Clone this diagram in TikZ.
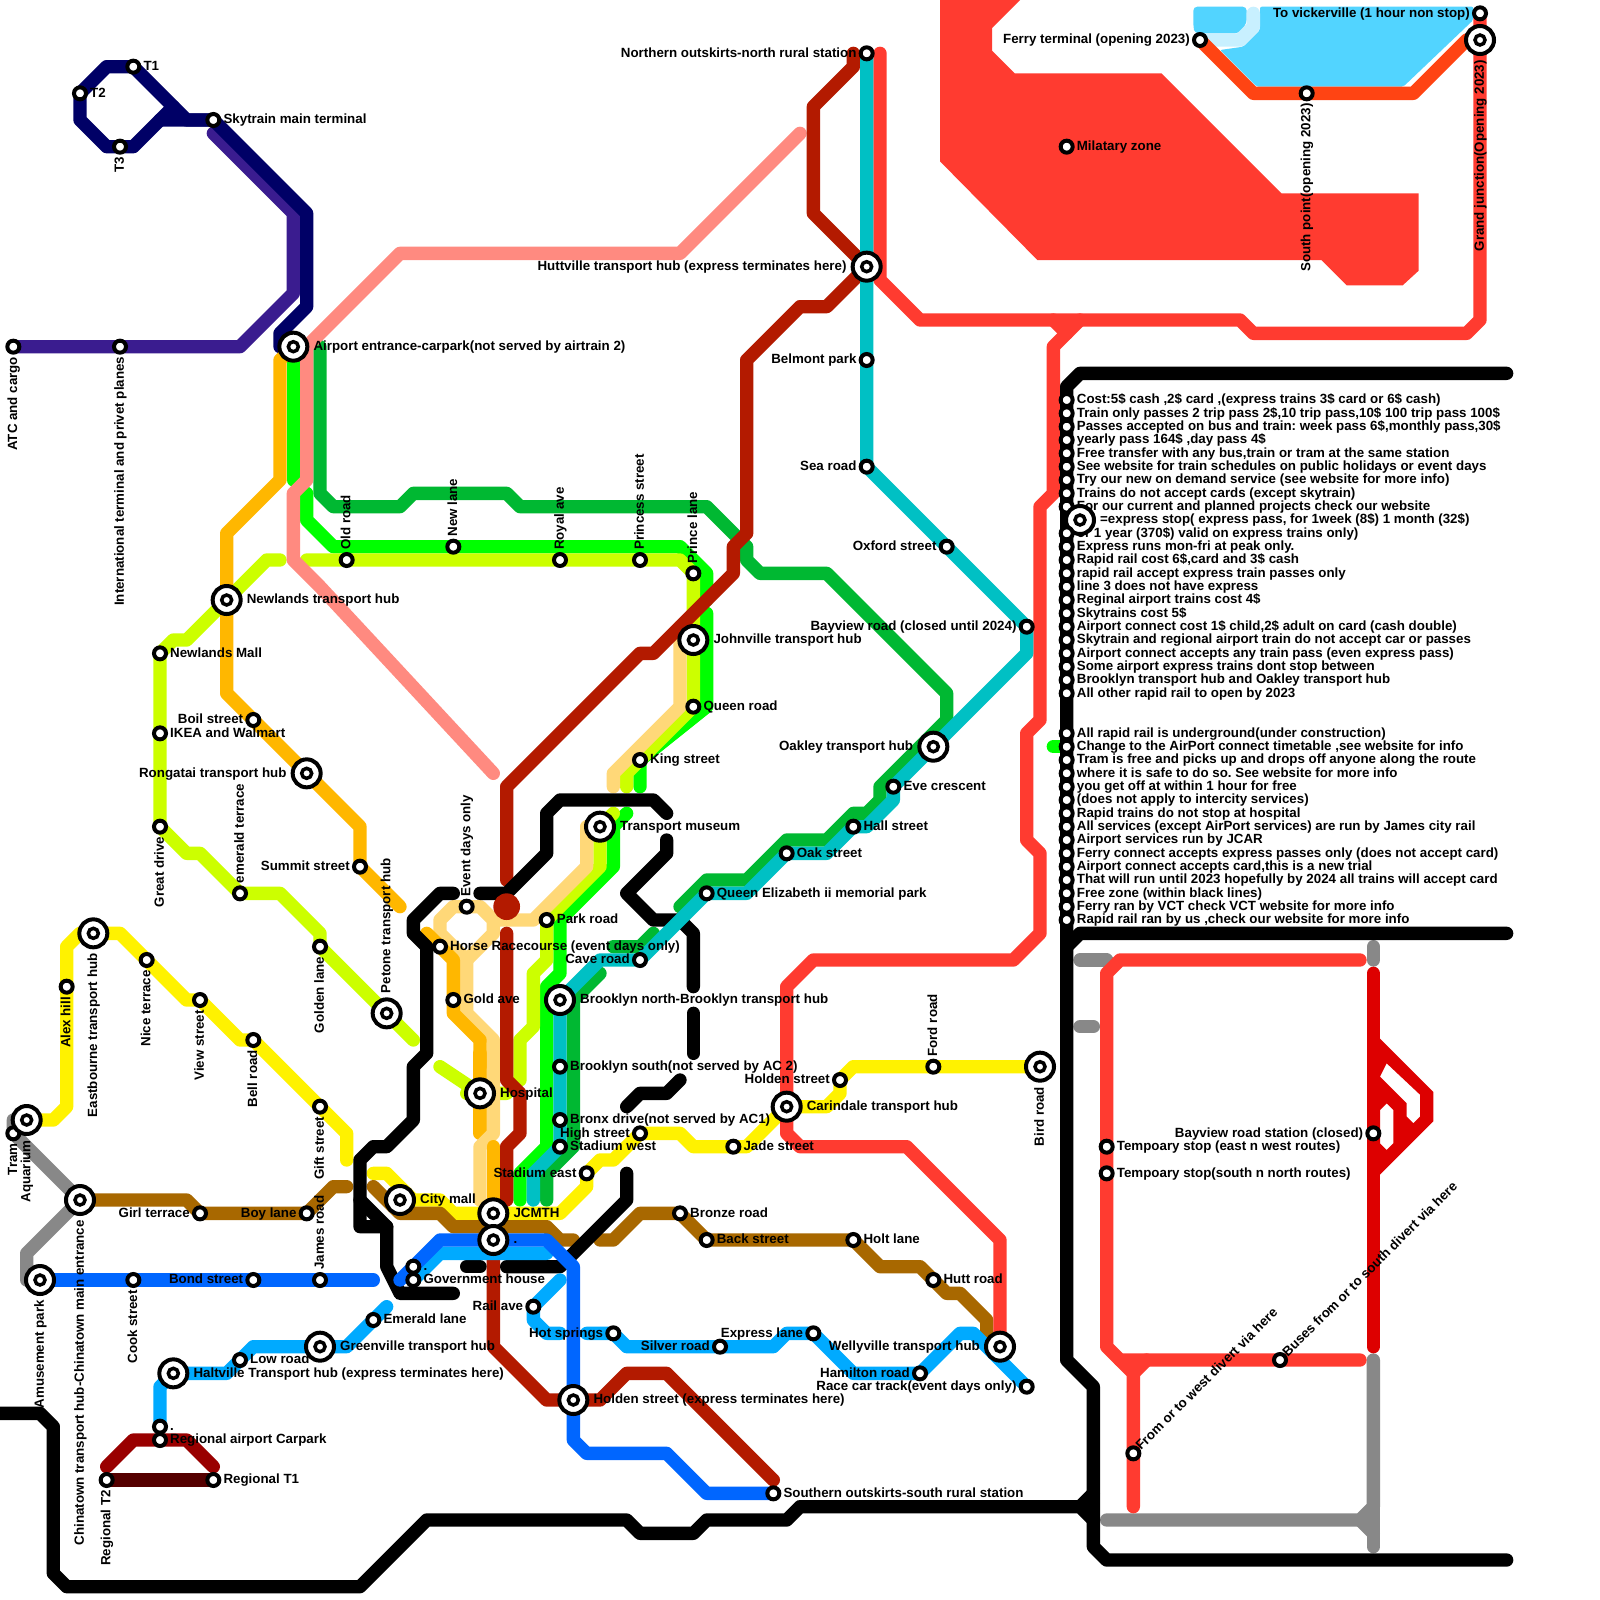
\documentclass[tikz,border=0pt]{standalone}
\usepackage{fontspec}
\setmainfont{Liberation Sans}
\pgfdeclarelayer{lines}\pgfdeclarelayer{words}
\pgfsetlayers{lines,words,main}
\definecolor{cnavy}{HTML}{000066}\definecolor{cpurple}{HTML}{3A1C8F}
\definecolor{cred}{HTML}{FF3B30}\definecolor{ccyan}{HTML}{00C0C4}
\definecolor{cdkgreen}{HTML}{00B832}\definecolor{cgreen}{HTML}{00FF00}
\definecolor{cyg}{HTML}{CCFF00}\definecolor{cgold}{HTML}{FFB700}
\definecolor{cpale}{HTML}{FFD878}\definecolor{csalmon}{HTML}{FF8A80}
\definecolor{cdkred}{HTML}{B31A00}\definecolor{cbrown}{HTML}{A86800}
\definecolor{cblue}{HTML}{0066FF}\definecolor{clblue}{HTML}{00AAFF}
\definecolor{cgray}{HTML}{888888}\definecolor{cdeep}{HTML}{DD0000}
\definecolor{csky}{HTML}{52D4FF}\definecolor{clight}{HTML}{C8F0FF}
\definecolor{cferry}{HTML}{FF4413}\definecolor{cregion}{HTML}{990000}
\definecolor{cmaroon}{HTML}{550000}
\tikzset{
 rl/.style={line width=13.33pt,line cap=round,line join=round},
 stn/.style={circle,draw=black,fill=white,line width=4pt,minimum size=12pt,inner sep=0pt},
 xstn/.style={circle,draw=black,fill=white,line width=4pt,minimum size=28pt,inner sep=0pt},
 xcore/.style={circle,draw=black,fill=white,line width=3.5pt,minimum size=10pt,inner sep=0pt},
 words/.style={inner sep=0pt,font=\fontsize{13.33}{13.33}\selectfont\bfseries\frenchspacing,text height=7.5pt,text depth=0pt},
 lblR/.style={words,anchor=west,xshift=10pt},
 lblL/.style={words,anchor=east,xshift=-10pt},
 lblU/.style={words,yshift=10pt,rotate=90,anchor=west},
 lblD/.style={words,yshift=-10pt,rotate=90,anchor=east},
 lblA/.style={words,xshift=5pt,yshift=5pt,rotate=45,anchor=west},
 xlblR/.style={words,anchor=west,xshift=20pt},
 xlblL/.style={words,anchor=east,xshift=-20pt},
 xlblU/.style={words,yshift=20pt,rotate=90,anchor=west},
 xlblD/.style={words,yshift=-20pt,rotate=90,anchor=east},
}
\newcommand{\st}[4]{\node[stn] (#1) at (#2) {};\begin{pgfonlayer}{words}\node[lbl#3] (#1-t) at (#1.center) {#4};\end{pgfonlayer}}
\newcommand{\xst}[4]{\node[xstn] (#1) at (#2) {};\node[xcore] (#1-c) at (#2) {};\begin{pgfonlayer}{words}\node[xlbl#3] (#1-t) at (#1.center) {#4};\end{pgfonlayer}}
\begin{document}
\begin{tikzpicture}[x=13.3333pt,y=-13.3333pt]
\path[use as bounding box] (0,0) rectangle (120,120);
% ---- stations
\st{t1}{10,5}{R}{T1}\st{t2}{6,7}{R}{T2}\st{t3}{9,11}{D}{T3}
\st{sky}{16,9}{R}{Skytrain main terminal}
\st{atc}{1,26}{D}{ATC and cargo}
\st{intl}{9,26}{D}{International terminal and privet planes}
\xst{airport}{22,26}{R}{Airport entrance-carpark(not served by airtrain 2)}
\st{oldrd}{26,42}{U}{Old road}\st{newln}{34,41}{U}{New lane}
\st{royal}{42,42}{U}{Royal ave}\st{princess}{48,42}{U}{Princess street}
\st{prince}{52,43}{U}{Prince lane}
\xst{johnv}{52,48}{R}{Johnville transport hub}
\st{queenrd}{52,53}{R}{Queen road}\st{king}{48,57}{R}{King street}
\xst{museum}{45,62}{R}{Transport museum}
\xst{newlands}{17,45}{R}{Newlands transport hub}
\st{nmall}{12,49}{R}{Newlands Mall}\st{ikea}{12,55}{R}{IKEA and Walmart}
\st{boil}{19,54}{L}{Boil street}
\xst{rong}{23,58}{L}{Rongatai transport hub}
\st{emter}{18,67}{U}{emerald terrace}\st{great}{12,62}{D}{Great drive}
\st{summit}{27,65}{L}{Summit street}
\xst{petone}{29,76}{U}{Petone transport hub}
\st{event}{35,68}{U}{Event days only}
\st{horse}{33,71}{R}{Horse Racecourse (event days only)}
\st{park}{41,69}{R}{Park road}\st{cave}{48,72}{L}{Cave road}
\st{gold}{34,75}{R}{Gold ave}\st{golden}{24,71}{D}{Golden lane}
\xst{brookn}{42,75}{R}{Brooklyn north-Brooklyn transport hub}
\st{brooks}{42,80}{R}{Brooklyn south(not served by AC 2)}
\st{bronx}{42,84}{R}{Bronx drive(not served by AC1)}
\st{stw}{42,86}{R}{Stadium west}\st{high}{48,85}{L}{High street}
\st{ste}{44,88}{L}{Stadium east}
\xst{hosp}{36,82}{R}{Hospital}\xst{city}{30,90}{R}{City mall}
\xst{jc}{37,91}{R}{JCMTH}\xst{dota}{37,93}{R}{.}
\st{dotb}{31,95}{R}{.}\st{gov}{31,96}{R}{Government house}
\st{rail}{40,98}{L}{Rail ave}\st{hots}{46,100}{L}{Hot springs}
\st{silver}{54,101}{L}{Silver road}\st{expl}{61,100}{L}{Express lane}
\xst{well}{75,101}{L}{Wellyville transport hub}
\st{hamil}{69,103}{L}{Hamilton road}
\st{race}{77,104}{L}{Race car track(event days only)}
\st{bronze}{51,91}{R}{Bronze road}\st{back}{53,93}{R}{Back street}
\st{holt}{64,93}{R}{Holt lane}\st{hutt}{70,96}{R}{Hutt road}
\st{jade}{55,86}{R}{Jade street}
\xst{carin}{59,83}{R}{Carindale transport hub}
\st{holdn}{63,81}{L}{Holden street}\st{ford}{70,80}{U}{Ford road}
\xst{bird}{78,80}{D}{Bird road}
\st{eve}{67,59}{R}{Eve crescent}\st{hall}{64,62}{R}{Hall street}
\st{oak}{59,64}{R}{Oak street}
\st{qe}{53,67}{R}{Queen Elizabeth ii memorial park}
\xst{oakley}{70,56}{L}{Oakley transport hub}
\st{bay}{77,47}{L}{Bayview road (closed until 2024)}
\st{oxford}{71,41}{L}{Oxford street}\st{sea}{65,35}{L}{Sea road}
\st{belmont}{65,27}{L}{Belmont park}
\xst{hutv}{65,20}{L}{Huttville transport hub (express terminates here)}
\st{north}{65,4}{L}{Northern outskirts-north rural station}
\st{mil}{80,11}{R}{Milatary zone}
\st{ferry}{90,3}{L}{Ferry terminal (opening 2023)}
\st{south}{98,7}{D}{South point(opening 2023)}
\st{vick}{111,1}{L}{To vickerville (1 hour non stop)}
\xst{grand}{111,3}{D}{Grand junction(Opening 2023)}
\st{alex}{5,74}{D}{Alex hill}\xst{east}{7,70}{D}{Eastbourne transport hub}
\st{nice}{11,72}{D}{Nice terrace}\st{view}{15,75}{D}{View street}
\st{bell}{19,78}{D}{Bell road}\st{gift}{24,83}{D}{Gift street}
\st{girl}{15,91}{L}{Girl terrace}\st{boy}{23,91}{L}{Boy lane}
\st{james}{24,96}{U}{James road}\st{bond}{19,96}{L}{Bond street}
\st{cook}{10,96}{D}{Cook street}
\xst{amuse}{3,96}{D}{Amusement park}
\st{tram}{1,85}{D}{Tram}
\xst{aqua}{2,84}{D}{Aquarium}
\xst{china}{6,90}{D}{Chinatown transport hub-Chinatown main entrance}
\st{emer}{28,99}{R}{Emerald lane}\st{low}{18,102}{R}{Low road}
\xst{green}{24,101}{R}{Greenville transport hub}
\xst{halt}{13,103}{R}{Haltville Transport hub (express terminates here)}
\st{dotc}{12,107}{R}{.}\st{carp}{12,108}{R}{Regional airport Carpark}
\st{rta}{16,111}{R}{Regional T1}\st{rtb}{8,111}{D}{Regional T2}
\st{sth}{58,112}{R}{Southern outskirts-south rural station}
\xst{holx}{43,105}{R}{Holden street (express terminates here)}
\st{fw}{85,109}{A}{From or to west divert via here}
\st{fs}{96,102}{A}{Buses from or to south divert via here}
\st{tpa}{83,86}{R}{Tempoary stop (east n west routes)}
\st{tpb}{83,88}{R}{Tempoary stop(south n north routes)}
\st{bayc}{103,85}{L}{Bayview road station (closed)}
% ---- notice board
\st{n30}{80,30}{R}{Cost:5\$ cash ,2\$ card ,(express trains 3\$ card or 6\$ cash)}
\st{n31}{80,31}{R}{Train only passes 2 trip pass 2\$,10 trip pass,10\$ 100 trip pass 100\$}
\st{n32}{80,32}{R}{Passes accepted on bus and train: week pass 6\$,monthly pass,30\$}
\st{n33}{80,33}{R}{yearly pass 164\$ ,day pass 4\$}
\st{n34}{80,34}{R}{Free transfer with any bus,train or tram at the same station}
\st{n35}{80,35}{R}{See website for train schedules on public holidays or event days}
\st{n36}{80,36}{R}{Try our new on demand service (see website for more info)}
\st{n37}{80,37}{R}{Trains do not accept cards (except skytrain)}
\st{n38}{80,38}{R}{For our current and planned projects check our website}
\xst{n39}{81,39}{R}{=express stop( express pass, for 1week (8\$) 1 month (32\$)}
\st{n40}{80,40}{R}{or 1 year (370\$) valid on express trains only)}
\st{n41}{80,41}{R}{Express runs mon-fri at peak only.}
\st{n42}{80,42}{R}{Rapid rail cost 6\$,card and 3\$ cash}
\st{n43}{80,43}{R}{rapid rail accept express train passes only}
\st{n44}{80,44}{R}{line 3 does not have express}
\st{n45}{80,45}{R}{Reginal airport trains cost 4\$}
\st{n46}{80,46}{R}{Skytrains cost 5\$}
\st{n47}{80,47}{R}{Airport connect cost 1\$ child,2\$ adult on card (cash double)}
\st{n48}{80,48}{R}{Skytrain and regional airport train do not accept car or passes}
\st{n49}{80,49}{R}{Airport connect accepts any train pass (even express pass)}
\st{n50}{80,50}{R}{Some airport express trains dont stop between}
\st{n51}{80,51}{R}{Brooklyn transport hub and Oakley transport hub}
\st{n52}{80,52}{R}{All other rapid rail to open by 2023}
\st{n55}{80,55}{R}{All rapid rail is underground(under construction)}
\st{n56}{80,56}{R}{Change to the AirPort connect timetable ,see website for info}
\st{n57}{80,57}{R}{Tram is free and picks up and drops off anyone along the route}
\st{n58}{80,58}{R}{where it is safe to do so. See website for more info}
\st{n59}{80,59}{R}{you get off at within 1 hour for free}
\st{n60}{80,60}{R}{(does not apply to intercity services)}
\st{n61}{80,61}{R}{Rapid trains do not stop at hospital}
\st{n62}{80,62}{R}{All services (except AirPort services) are run by James city rail}
\st{n63}{80,63}{R}{Airport services run by JCAR}
\st{n64}{80,64}{R}{Ferry connect accepts express passes only (does not accept card)}
\st{n65}{80,65}{R}{Airport connect accepts card,this is a new trial}
\st{n66}{80,66}{R}{That will run until 2023 hopefully by 2024 all trains will accept card}
\st{n67}{80,67}{R}{Free zone (within black lines)}
\st{n68}{80,68}{R}{Ferry ran by VCT check VCT website for more info}
\st{n69}{80,69}{R}{Rapid rail ran by us ,check our website for more info}
% ---- lines
\begin{pgfonlayer}{lines}
\fill[white] (0,0) rectangle (120,120);
% areas
\fill[cred] (70.5,0)--(76.5,0)--(74.4,2.1)--(74.4,3.8)--(76.1,5.5)--(87.1,5.5)--(96.1,14.5)--(106.4,14.5)--(106.4,20.3)--(105.2,21.4)--(101,21.4)--(99.1,19.5)--(77.8,19.5)--(70.5,12.1)--cycle;
\fill[csky,rounded corners=4pt] (89.5,.5)--(93.5,.5)--(93.5,1.75)--(92.9,2.5)--(89.6,2.5)--(89.5,2)--cycle;
\fill[csky,rounded corners=2pt] (94.5,.5)--(110.5,.5)--(110.5,1.5)--(105.25,6.5)--(94.25,6.5)--(91.5,3.75)--(93.25,3.5)--(94.5,2.25)--cycle;
\draw[rl,clight] (ferry.center)--(93,3)--(94,2)--(94,1);
\draw[rl,cferry] (ferry.center)--(94,7)--(south.center)--(106,7)--(110,3)--(grand.center);
% gray
\draw[rl,cgray] (aqua.center)--(1,84)--(1,85)--(china.center)--(5,91)--(2,94)--(2,96)--(amuse.center);
\draw[rl,cgray] (81,72)--(83,72);\draw[rl,cgray] (81,77)--(82,77);\draw[rl,cgray] (103,71)--(103,72);
\draw[rl,cgray] (83,114)--(102,114)--(103,113)--(103,102);\draw[rl,cgray] (103,113)--(103,116);\draw[rl,cgray] (102,114)--(103,115);
% sky trains
\draw[rl,cpurple] (atc.center)--(intl.center)--(18,26)--(22,22)--(22,16)--(16,10);
\draw[rl,cnavy] (t1.center)--(8,5)--(t2.center)--(6,9)--(8,11)--(t3.center)--(10,11)--(13,8);
\draw[rl,cnavy] (12,9)--(sky.center)--(23,16)--(23,23)--(21,25)--(21,26)--(airport.center);
\draw[rl,cnavy] (t1.center)--(14,9)--(sky.center);
% dark green
\draw[rl,cdkgreen] (24,26)--(24,37)--(25,38)--(30,38)--(31,37)--(38,37)--(39,38)--(53,38)--(56,41)--(56,42)--(57,43)--(62,43)--(71,52)--(71,54)--(66,59)--(66,60)--(65,61)--(64,61)--(62,63)--(59,63)--(56,66)--(53,66)--(51,68);
\draw[rl,cdkgreen] (46,71)--(48,71)--(49,70);
\draw[rl,cdkgreen] (45,73)--(43,75)--(43,86)--(41,88)--(41,90);
% bright green
\draw[rl,cgreen] (airport.center)--(22,36);
\draw[rl,cgreen] (23,37)--(23,39)--(25,41)--(newln.center)--(51,41)--(53,43)--(53,45);
\draw[rl,cgreen] (53,46)--(53,53)--(king.center)--(48,58)--(48,59);
\draw[rl,cgreen] (47,61)--(46,62)--(46,65)--(42,69)--(42,73)--(41,74)--(41,86)--(39,88)--(39,90);
\draw[rl,cgreen] (79,56)--(80,56);
% yellow-green
\draw[rl,cyg] (nmall.center)--(13,48)--(14,48)--(newlands.center)--(20,42)--(21,42);
\draw[rl,cyg] (nmall.center)--(ikea.center)--(great.center)--(14,64)--(15,64)--(emter.center)--(21,67)--(24,70)--(golden.center)--(petone.center)--(31,78);
\draw[rl,cyg] (23,42)--(oldrd.center)--(royal.center)--(princess.center)--(51,42)--(prince.center)--(johnv.center)--(queenrd.center)--(47,58)--(47,59);
\draw[rl,cyg] (39,81)--(39,78)--(40,77)--(40,73)--(41,72)--(park.center)--(45,65)--(45,62)--(46,61);
\draw[rl,cyg] (33,80)--(hosp.center)--(35,82)--(38,82);
% gold and pale
\draw[rl,cgold] (airport.center)--(21,27)--(21,36)--(17,40)--(newlands.center)--(17,52)--(boil.center)--(rong.center)--(27,62)--(summit.center)--(30,68);
\draw[rl,cgold] (36,79)--(36,85);
\draw[rl,cpale] (51,47)--(51,53)--(46,58)--(46,59);
\draw[rl,cpale] (museum.center)--(44,62)--(44,65)--(40,69)--(37,69)--(36,68)--(34,68)--(33,69)--(33,70)--(35,72)--(37,70)--(37,69);
\draw[rl,cpale] (35,72)--(35,76)--(37,78)--(37,85)--(36,86)--(36,90);
\draw[rl,cgold] (32,70)--(34,72)--(34,76)--(36,78)--(36,80);
\draw[rl,cgold] (37,86)--(37,90);
% salmon
\draw[rl,csalmon] (60,10)--(51,19)--(30,19)--(23,26)--(23,36)--(22,37)--(22,42)--(24,44)--(37,58);
% yellow
\draw[rl,yellow] (aqua.center)--(4,84)--(5,83)--(alex.center)--(5,71)--(6,70)--(east.center)--(9,70)--(nice.center)--(14,75)--(view.center)--(18,78)--(bell.center)--(gift.center)--(26,85)--(26,87);
\draw[rl,yellow] (28,88)--(29,88)--(31,90)--(33,90)--(34,91)--(42,91)--(44,89)--(ste.center)--(45,87)--(46,87)--(high.center)--(51,85)--(52,86)--(jade.center)--(56,86)--(carin.center)--(62,83)--(63,82)--(holdn.center)--(64,80)--(ford.center)--(bird.center);
% brown
\draw[rl,cbrown] (china.center)--(14,90)--(girl.center)--(boy.center)--(25,89)--(26,89);
\draw[rl,cbrown] (28,89)--(30,91)--(33,91)--(34,92)--(41,92)--(42,93)--(43,93);
\draw[rl,cbrown] (45,93)--(46,93)--(48,91)--(bronze.center)--(back.center)--(holt.center)--(66,95)--(69,95)--(hutt.center)--(71,97)--(72,97)--(74,99)--(74,100);
% red lines
\draw[rl,cred] (66,4)--(66,21)--(69,24)--(93,24)--(94,25)--(110,25)--(111,24)--(grand.center)--(vick.center);
\draw[rl,cred] (79,24)--(80,25)--(81,24);
\draw[rl,cred] (80,25)--(79,26)--(79,37)--(78,38)--(78,54)--(77,55)--(77,63)--(78,64)--(78,70)--(76,72)--(61,72)--(59,74)--(carin.center)--(59,85)--(60,86)--(68,86)--(75,93)--(well.center);
\draw[rl,cred] (102,72)--(84,72)--(83,73)--(tpa.center)--(tpb.center)--(83,101)--(84,102)--(fs.center)--(102,102);
\draw[rl,cred] (84,102)--(85,103)--(fw.center)--(85,113);
\draw[rl,cred] (86,102)--(85,103);
% deep red
\draw[rl,cdeep] (103,73)--(bayc.center)--(103,101);
\fill[cdeep,even odd rule] (103.5,77.9)--(107.5,81.9)--(107.5,84.1)--(103.5,88.1)--cycle
 (104,79.75)--(106.5,82.1)--(106.5,83.75)--(106,84.25)--(105.5,83.75)--(105.5,82.75)--(103.5,80.75)--cycle
 (104,82.75)--(104.5,83.25)--(104.5,85.75)--(104,86.25)--(103.5,85.75)--(103.5,83.25)--cycle;
% dark red main
\draw[rl,cdkred] (64,4)--(64,5)--(61,8)--(61,16)--(hutv.center)--(62,23)--(60,23)--(56,27)--(56,40)--(55,41)--(55,43)--(49,49)--(48,49)--(38,59)--(38,66);
\draw[rl,cdkred] (38,70)--(38,81)--(39,82)--(39,85)--(38,86)--(38,90);
\draw[rl,cdkred] (dota.center)--(37,95)--(37,101)--(41,105)--(holx.center)--(45,105)--(47,103)--(50,103)--(58,111);
% regional
\draw[rl,cregion] (8,110)--(10,108)--(14,108)--(16,110);
\draw[rl,cmaroon] (rtb.center)--(rta.center);
% black
\draw[rl,black] (50,61)--(49,60)--(42,60)--(41,61)--(41,64)--(38,67)--(36,67);
\draw[rl,black] (50,63)--(50,64)--(47,67)--(49,69)--(51,69)--(52,70)--(52,74);
\draw[rl,black] (52,76)--(52,79);
\draw[rl,black] (34,67)--(33,67)--(31,69)--(31,70)--(32,71)--(32,79)--(31,80)--(31,84)--(29,86)--(28,86)--(27,87)--(27,92)--(29,92)--(29,95)--(30,97)--(34,97);
\draw[rl,black] (27,90)--(29,92);
\draw[rl,black] (35,95)--(36,95);
\draw[rl,black] (38,95)--(42,95)--(47,90)--(47,88);
\draw[rl,black] (47,83)--(48,82)--(50,82)--(51,81);
\draw[rl,black] (113,28)--(81,28)--(80,29)--(80,102)--(82,104)--(82,116)--(83,117)--(113,117);
\draw[rl,black] (113,70)--(81,70)--(80,71);
\draw[rl,black] (0,106)--(3,106)--(4,107)--(4,118)--(5,119)--(27,119)--(32,114)--(47,114)--(48,115)--(52,115)--(53,114)--(59,114)--(60,113)--(81,113)--(82,114);
\draw[rl,black] (81,113)--(82,112);
\node[circle,fill=cdkred,minimum size=26.7pt,inner sep=0pt] (hubdot) at (38,68) {};
% cyan
\draw[rl,ccyan] (north.center)--(hutv.center)--(belmont.center)--(sea.center)--(oxford.center)--(bay.center)--(77,49)--(oakley.center)--(eve.center)--(67,60)--(65,62)--(hall.center)--(62,64)--(oak.center)--(56,67)--(qe.center)--(cave.center)--(45,72)--(brookn.center)--(brooks.center)--(bronx.center)--(stw.center)--(40,88)--(40,90);
% blue
\draw[rl,clblue] (gov.center)--(33,94)--(41,94);
\draw[rl,clblue] (42,96)--(rail.center)--(40,99)--(41,100)--(42,100);
\draw[rl,clblue] (44,100)--(hots.center)--(47,101)--(silver.center)--(58,101)--(59,100)--(expl.center)--(64,103)--(hamil.center)--(72,100)--(73,100)--(race.center);
\draw[rl,clblue] (29,98)--(emer.center)--(26,101)--(green.center)--(19,101)--(17,103)--(halt.center)--(12,104)--(dotc.center);
\draw[rl,cblue] (amuse.center)--(cook.center)--(bond.center)--(james.center)--(28,96);
\draw[rl,cblue] (30,96)--(33,93)--(41,93)--(43,95)--(holx.center)--(43,108)--(44,109)--(50,109)--(53,112)--(sth.center);
\end{pgfonlayer}
\end{tikzpicture}
\end{document}
